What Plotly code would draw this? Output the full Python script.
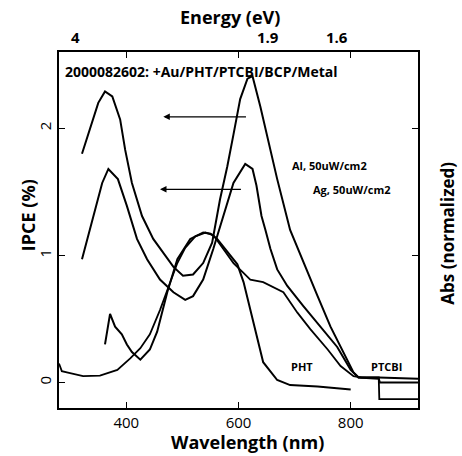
import plotly.graph_objects as go

# ---- data ----
al_wl = [321, 335, 350, 362, 375, 389, 398, 410, 428, 448, 466, 484, 501, 519, 537, 553, 567, 580, 591,
         603, 616, 625, 639, 657, 669, 692, 716, 741, 764, 787, 805, 814, 850, 920]
al_ipce = [1.80, 1.99, 2.20, 2.29, 2.25, 2.07, 1.83, 1.57, 1.31, 1.13, 1.02, 0.91, 0.84, 0.85, 0.94, 1.10, 1.44, 1.70, 1.95,
           2.23, 2.39, 2.41, 2.17, 1.83, 1.60, 1.20, 0.94, 0.68, 0.44, 0.24, 0.08, 0.04, 0.04, 0.03]

ag_wl = [321, 341, 357, 368, 385, 401, 419, 437, 460, 484, 505, 519, 537, 555, 573, 591, 612, 625, 632, 641,
         648, 657, 669, 687, 716, 746, 776, 800, 814, 850, 852, 920]
ag_ipce = [0.97, 1.31, 1.57, 1.68, 1.60, 1.39, 1.13, 0.97, 0.81, 0.71, 0.65, 0.68, 0.81, 1.05, 1.31, 1.57, 1.72, 1.68, 1.55, 1.31,
           1.20, 1.05, 0.89, 0.76, 0.60, 0.44, 0.28, 0.10, 0.04, 0.03, 0.0, 0.0]

pht_wl = [362, 371, 380, 392, 401, 410, 425, 442, 455, 473, 491, 514, 537, 550, 562, 580, 598, 609, 621, 634,
          644, 669, 692, 741, 800]
pht_abs = [0.30, 0.54, 0.44, 0.38, 0.30, 0.24, 0.18, 0.26, 0.40, 0.71, 0.97, 1.13, 1.18, 1.17, 1.13, 1.03, 0.93, 0.79, 0.57, 0.34,
           0.16, 0.02, -0.02, -0.03, -0.055]

ptcbi_wl = [280, 285, 294, 323, 353, 384, 407, 425, 442, 460, 475, 491, 505, 523, 541, 555, 573, 591, 607, 621,
            644, 669, 680, 705, 728, 759, 782, 805, 820, 850, 851, 920]
ptcbi_abs = [0.15, 0.09, 0.08, 0.05, 0.055, 0.10, 0.19, 0.27, 0.38, 0.57, 0.75, 0.94, 1.06, 1.15, 1.18, 1.16, 1.05, 0.94, 0.87, 0.81,
             0.79, 0.73, 0.71, 0.55, 0.42, 0.26, 0.13, 0.05, 0.04, 0.04, -0.13, -0.13]

energy_labels = [4, 1.9, 1.6]

line = dict(color="black", width=2)

fig = go.Figure()
fig.add_trace(go.Scatter(x=al_wl, y=al_ipce, mode="lines", line=line, showlegend=False))
fig.add_trace(go.Scatter(x=ag_wl, y=ag_ipce, mode="lines", line=line, showlegend=False))
fig.add_trace(go.Scatter(x=pht_wl, y=pht_abs, mode="lines", line=line, showlegend=False))
fig.add_trace(go.Scatter(x=ptcbi_wl, y=ptcbi_abs, mode="lines", line=dict(color="black", width=1.8), showlegend=False))

fig.update_layout(
    width=462, height=456,
    margin=dict(l=59, r=44, t=52, b=48),
    plot_bgcolor="white",
    xaxis=dict(range=[280, 920], tickmode="array", tickvals=[400, 600, 800],
               showline=True, linecolor="black", linewidth=2, mirror="ticks",
               ticks="inside", ticklen=6, tickcolor="black", showgrid=False, zeroline=False,
               tickfont=dict(size=15, color="black")),
    yaxis=dict(range=[-0.2, 2.6], tickmode="array", tickvals=[0, 1, 2], tickangle=-90,
               showline=True, linecolor="black", linewidth=2, mirror="ticks",
               ticks="inside", ticklen=6, tickcolor="black", showgrid=False, zeroline=False,
               tickfont=dict(size=15, color="black")),
)

def pa(text, x, y, size, angle=0, xanchor="center"):
    return dict(text="<b>%s</b>" % text, x=x, y=y, xref="paper", yref="paper", showarrow=False,
                xanchor=xanchor, yanchor="middle", textangle=angle,
                font=dict(size=size, color="black"))

def da(text, x, y):
    return dict(text="<b>%s</b>" % text, x=x, y=y, xref="x", yref="y", showarrow=False,
                font=dict(size=11, color="black"))

ann = [
    pa("Energy (eV)", 0.476, 1.098, 18),
    pa("Wavelength (nm)", 0.524, -0.0955, 18),
    pa("IPCE (%)", -0.086, 0.542, 18, angle=-90),
    pa("Abs (normalized)", 1.081, 0.49, 17, angle=-90),
    pa("2000082602: +Au/PHT/PTCBI/BCP/Metal", 0.011, 0.944, 14, xanchor="left"),
    da("Al, 50uW/cm2", 762, 1.71),
    da("Ag, 50uW/cm2", 803, 1.52),
    da("PHT", 714, 0.13),
    da("PTCBI", 864, 0.13),
    dict(text="", x=466, y=2.09, ax=616, ay=2.09, xref="x", yref="y", axref="x", ayref="y",
         showarrow=True, arrowhead=2, arrowsize=1, arrowwidth=1.3, arrowcolor="black"),
    dict(text="", x=460, y=1.52, ax=607, ay=1.52, xref="x", yref="y", axref="x", ayref="y",
         showarrow=True, arrowhead=2, arrowsize=1, arrowwidth=1.3, arrowcolor="black"),
]
for e in energy_labels:
    ann.append(dict(text="<b>%s</b>" % e, x=1240 / e, y=1.042, xref="x", yref="paper", showarrow=False,
                    yanchor="middle", font=dict(size=15, color="black")))
fig.update_layout(annotations=ann)

fig.write_html("out.html")
